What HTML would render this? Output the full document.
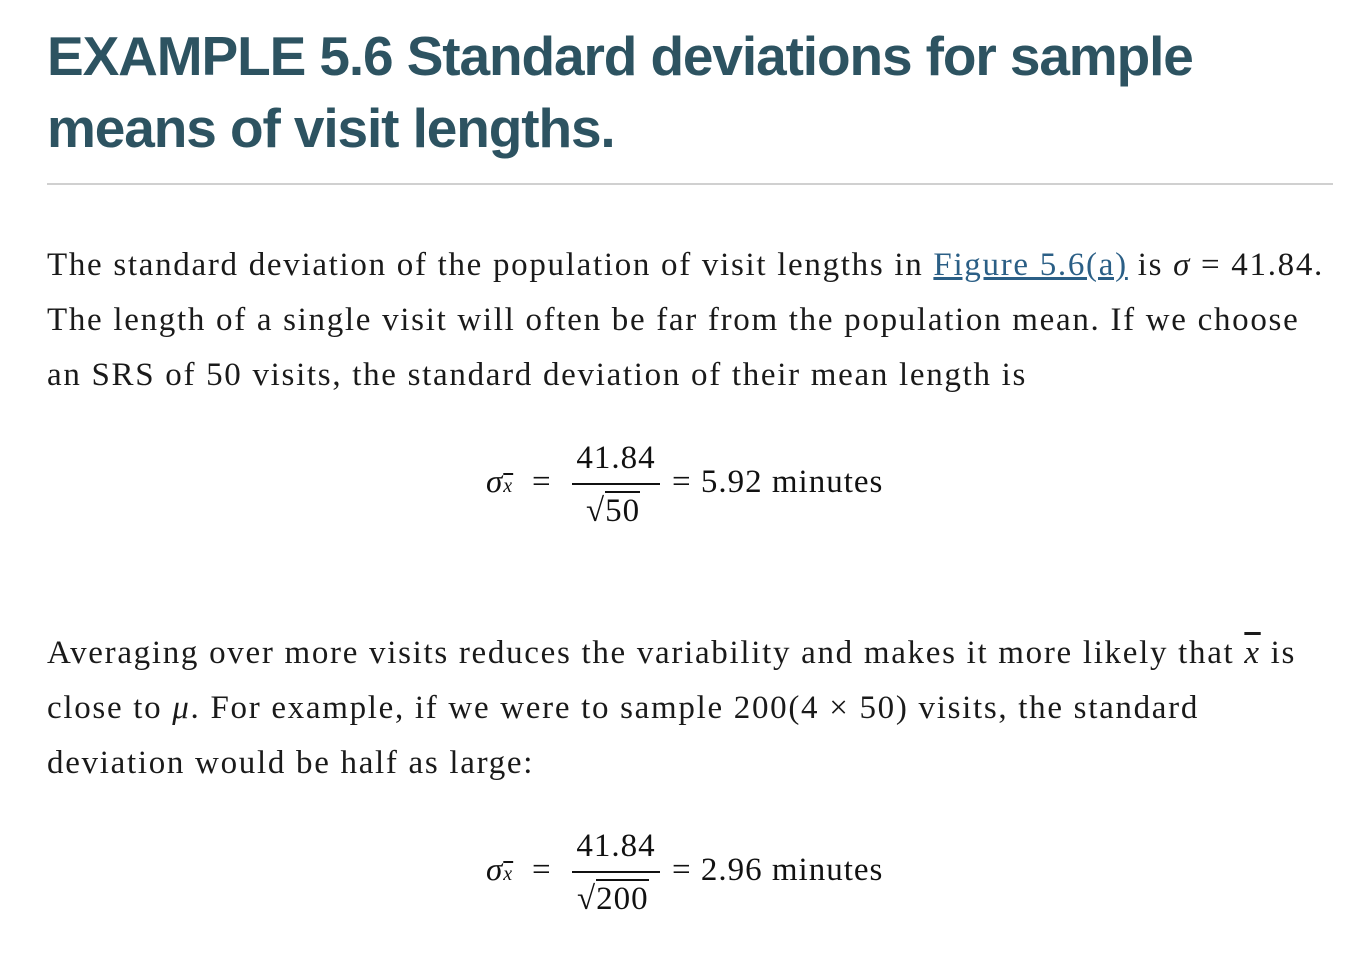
<!DOCTYPE html>
<html><head><meta charset="utf-8">
<style>
html,body{margin:0;padding:0;background:#fff;width:1368px;height:954px;overflow:hidden;position:relative}
.t{position:absolute;left:47px;font-family:"Liberation Sans",sans-serif;font-weight:bold;color:#2d5361;font-size:55px;letter-spacing:-1.1px;white-space:nowrap}
.p{position:absolute;left:47px;font-family:"Liberation Serif",serif;font-size:33px;letter-spacing:1.7px;color:#1a1a1a;white-space:nowrap}
.m{font-family:"Liberation Serif",serif;font-style:italic}
a{color:#2b5f86;text-decoration:underline}
.eq{position:absolute;font-family:"Liberation Serif",serif;font-size:33px;letter-spacing:1px;color:#111;white-space:nowrap}
.frac{position:absolute;text-align:center}
.bar{position:absolute;height:2px;background:#111}
</style></head><body>
<div class="t" style="top:24px">EXAMPLE 5.6 Standard deviations for sample</div>
<div class="t" style="top:96px">means of visit lengths.</div>
<div style="position:absolute;left:47px;top:183px;width:1286px;height:2px;background:#d0d0d0"></div>

<div class="p" style="top:247px">The standard deviation of the population of visit lengths in <a>Figure 5.6(a)</a> is <span class="m">σ</span> = 41.84.</div>
<div class="p" style="top:302px">The length of a single visit will often be far from the population mean. If we choose</div>
<div class="p" style="top:357px">an SRS of 50 visits, the standard deviation of their mean length is</div>

<div>
<div class="eq" style="left:486px;top:464px"><span class="m">σ</span><span class="m" style="font-size:20px;text-decoration:overline">x</span></div>
<div class="eq" style="left:532px;top:464px">=</div>
<div class="eq frac" style="left:572px;top:440px;width:88px">41.84</div>
<div class="bar" style="left:572px;top:483px;width:88px"></div>
<div class="eq" style="left:586px;top:493px">√<span style="border-top:2px solid #111">50</span></div>
<div class="eq" style="left:672px;top:464px">= 5.92 minutes</div>
</div>

<div class="p" style="top:635px">Averaging over more visits reduces the variability and makes it more likely that <span class="m" style="text-decoration:overline">x</span> is</div>
<div class="p" style="top:690px">close to <span class="m">μ</span>. For example, if we were to sample 200(4 × 50) visits, the standard</div>
<div class="p" style="top:745px">deviation would be half as large:</div>

<div>
<div class="eq" style="left:486px;top:852px"><span class="m">σ</span><span class="m" style="font-size:20px;text-decoration:overline">x</span></div>
<div class="eq" style="left:532px;top:852px">=</div>
<div class="eq frac" style="left:572px;top:828px;width:88px">41.84</div>
<div class="bar" style="left:572px;top:871px;width:88px"></div>
<div class="eq" style="left:577px;top:881px">√<span style="border-top:2px solid #111">200</span></div>
<div class="eq" style="left:672px;top:852px">= 2.96 minutes</div>
</div>
</body></html>
